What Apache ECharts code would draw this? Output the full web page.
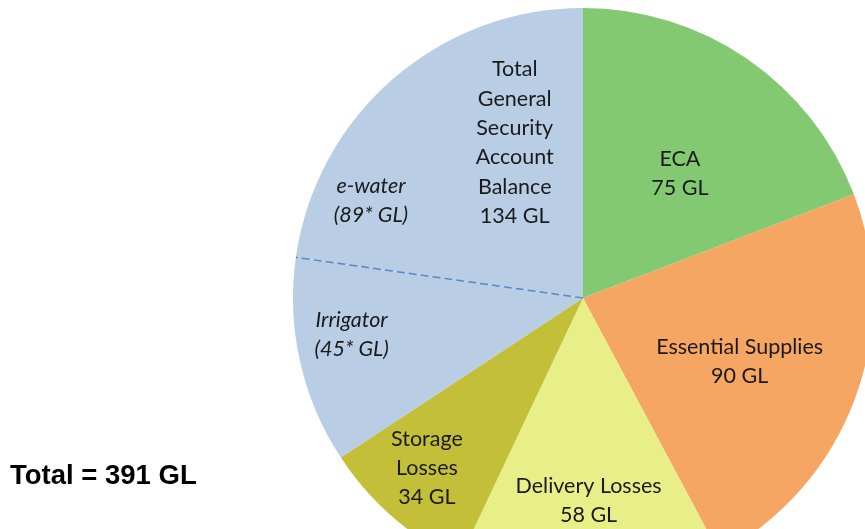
<!DOCTYPE html>
<html>
<head>
<meta charset="utf-8">
<script src="https://cdn.jsdelivr.net/npm/echarts@6/dist/echarts.min.js"></script>
<style>
html,body{margin:0;padding:0;background:#fff;}
#c{width:865px;height:529px;}
</style>
</head>
<body>
<div id="c"></div>
<script>
// Data
const categories = ['ECA', 'Essential Supplies', 'Delivery Losses', 'Storage Losses', 'Irrigator', 'e-water'];
const values = [75, 90, 58, 34, 45, 89];
const labelTexts = ['ECA\n75 GL', 'Essential Supplies\n90 GL', 'Delivery Losses\n58 GL', 'Storage\nLosses\n34 GL', 'Irrigator\n(45* GL)', 'e-water\n(89* GL)'];
const groupTitle = 'Total\nGeneral\nSecurity\nAccount\nBalance\n134 GL';
const totalText = 'Total = 391 GL';

const colors = ['#83c971', '#f6a663', '#e9ef88', '#c4bf38', '#b9cde5', '#b9cde5'];
const offsets = [[13, -3], [18, 12], [2, 55], [-59, 58], [-87, 4], [-115, 14]];
const italic = [false, false, false, false, true, true];

const total = values.reduce((a, b) => a + b, 0);
const gsIndexStart = 4;
const otherSum = values.slice(0, gsIndexStart).reduce((a, b) => a + b, 0);
const gsSum = values.slice(gsIndexStart).reduce((a, b) => a + b, 0);
const splitAt = otherSum + values[4];

const CENTER = [583, 298];
const R = 290;
const FONT = 'Lato, "Open Sans", sans-serif';

const chart = echarts.init(document.getElementById('c'), null, {renderer: 'canvas'});
chart.setOption({
  animation: false,
  polar: {center: CENTER, radius: R},
  angleAxis: {type: 'value', min: 0, max: total, startAngle: 90, clockwise: true, show: false},
  radiusAxis: {type: 'value', min: 0, max: 1, show: false},
  graphic: [{
    type: 'text', left: 10, top: 462,
    style: {text: totalText, font: 'bold 27.5px "Liberation Sans", Arial, sans-serif', fill: '#000'}
  }],
  series: [
    {
      type: 'pie',
      center: CENTER,
      radius: [0, R],
      startAngle: 90,
      clockwise: true,
      avoidLabelOverlap: false,
      silent: true,
      itemStyle: {borderWidth: 0},
      label: {show: true, position: 'inside', fontSize: 21.5, lineHeight: 29, color: '#1a1a1a', fontFamily: FONT, align: 'center'},
      labelLine: {show: false},
      data: categories.map((c, i) => ({
        name: c,
        value: values[i],
        itemStyle: {color: colors[i]},
        label: {formatter: labelTexts[i], offset: offsets[i], fontStyle: italic[i] ? 'italic' : 'normal'}
      }))
    },
    {
      type: 'pie',
      center: CENTER,
      radius: [0, R],
      startAngle: 90,
      clockwise: true,
      silent: true,
      avoidLabelOverlap: false,
      itemStyle: {color: 'rgba(0,0,0,0)', borderWidth: 0},
      label: {show: true, position: 'inside', fontSize: 21.5, lineHeight: 29.3, color: '#1a1a1a', fontFamily: FONT, align: 'center'},
      labelLine: {show: false},
      data: [
        {name: 'other', value: otherSum, label: {show: false}},
        {name: 'General Security', value: gsSum, label: {formatter: groupTitle, offset: [62, -85]}}
      ],
      z: 3
    },
    {
      type: 'line',
      coordinateSystem: 'polar',
      symbol: 'none',
      silent: true,
      lineStyle: {color: '#5b87c2', width: 1.5, type: [8, 4]},
      data: [[0, splitAt], [1, splitAt]],
      z: 4
    }
  ]
});
</script>
</body>
</html>
